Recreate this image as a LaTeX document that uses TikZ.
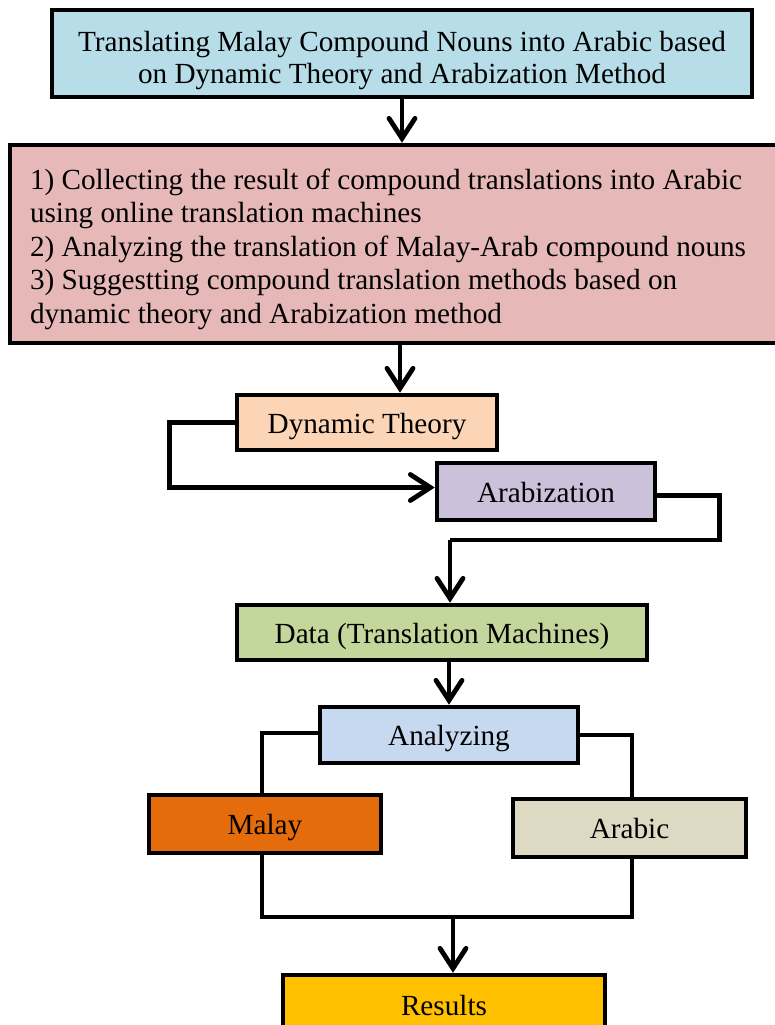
\documentclass[tikz,border=0pt]{standalone}
\usepackage{fontspec}
\setmainfont{Liberation Serif}
\usetikzlibrary{arrows.meta}
\definecolor{cTitle}{HTML}{B7DDE8}
\definecolor{cSteps}{HTML}{E6B9B8}
\definecolor{cDyn}{HTML}{FBD5B5}
\definecolor{cArab}{HTML}{CCC1DA}
\definecolor{cData}{HTML}{C3D69B}
\definecolor{cAnal}{HTML}{C6D9F1}
\definecolor{cMalay}{HTML}{E46C0A}
\definecolor{cArabic}{HTML}{DDD9C3}
\definecolor{cRes}{HTML}{FFC000}
\begin{document}
\begin{tikzpicture}[x=1pt,y=-1pt,
  box/.style={draw=black, line width=4.5pt, rectangle, inner sep=0pt, align=center,
    font=\fontsize{29.2}{32}\selectfont},
  one/.style={box, text height=21pt, text depth=0pt},
  link/.style={line width=4.8pt},
  arr/.style={line width=4.8pt, -{Straight Barb[length=20pt,width=26pt,line cap=round]}}]
\useasboundingbox (0,0) rectangle (775,1025);
\node[box, fill=cTitle, minimum width=700, minimum height=87, text width=690,
  align=flush center, text height=21pt, text depth=24pt] (title) at (402,53.5)
  {Translating Malay Compound Nouns into Arabic based\\on Dynamic Theory and Arabization Method};
\node[box, fill=cSteps, minimum width=780, minimum height=198, text width=740, inner xsep=20pt,
  align=flush left, text height=21pt, text depth=131pt,
  font=\fontsize{29.2}{33.5}\selectfont] (steps) at (400,244)
  {1) Collecting the result of compound translations into Arabic\\
   using online translation machines\\
   2) Analyzing the translation of Malay-Arab compound nouns\\
   3) Suggestting compound translation methods based on\\
   dynamic theory and Arabization method};
\node[one, fill=cDyn, minimum width=260, minimum height=55] (dyn) at (367,422.5) {Dynamic Theory};
\node[one, fill=cArab, minimum width=218, minimum height=57] (arab) at (546,491.5) {Arabization};
\node[one, fill=cData, minimum width=410, minimum height=55] (data) at (442,632.5) {Data (Translation Machines)};
\node[one, fill=cAnal, minimum width=258, minimum height=56] (anal) at (449,735) {Analyzing};
\node[one, fill=cMalay, minimum width=232, minimum height=58] (malay) at (265,824) {Malay};
\node[one, fill=cArabic, minimum width=233, minimum height=58] (arabic) at (629.5,828) {Arabic};
\node[one, fill=cRes, minimum width=322, minimum height=60] (res) at (444,1005) {Results};
\coordinate (k1) at (450,540);
\coordinate (j) at (453,917);
\draw[arr] (title.south) -- (title.south |- steps.north);
\draw[arr] (steps.south) -- (steps.south |- dyn.north);
\draw[arr] (dyn.west) -- ++(-65,0) |- ([yshift=4pt]arab.west);
\draw[link] ([yshift=-4pt]arab.east) -- ++(62,0) |- (k1);
\draw[arr] (k1) -- (k1 |- data.north);
\draw[arr] (anal.north |- data.south) -- (anal.north);
\draw[link] ([yshift=2pt]anal.west) -| (malay.north -| 262,0);
\draw[link] (anal.east) -| (arabic.north -| 632,0);
\draw[link] (malay.south -| 262,0) |- (j) -| (arabic.south -| 632,0);
\draw[arr] (j) -- (j |- res.north);
\end{tikzpicture}
\end{document}
